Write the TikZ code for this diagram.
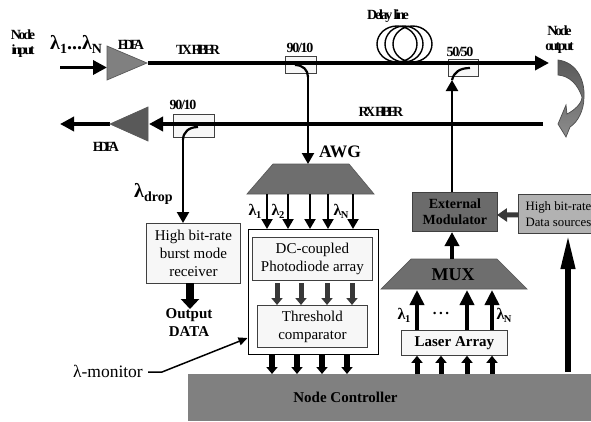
\documentclass[tikz,border=0pt]{standalone}
\usepackage{fontspec}
\setmainfont{Liberation Serif}
\newfontfamily\tightf[LetterSpace=-16]{Liberation Serif}
\newfontfamily\tighterf[LetterSpace=-26]{Liberation Serif}
\newfontfamily\tightnf[LetterSpace=-9]{Liberation Serif}
\usetikzlibrary{arrows.meta,calc}
\tikzset{
  fiberarr/.style={line width=3.4pt,-{Triangle[length=14pt,width=14pt]}},
  thinarr/.style={line width=2pt,-{Triangle[length=10pt,width=11pt]}},
  medarr/.style={line width=2.2pt,-{Triangle[length=11pt,width=12pt]}},
  fatarr/.style={line width=5pt,-{Triangle[length=7pt,width=11pt]}},
  hugearr/.style={line width=8pt,-{Triangle[length=10pt,width=18pt]}},
  longarr/.style={line width=6.5pt,-{Triangle[length=36pt,width=13pt]}},
  midarr/.style={draw=black!78,line width=5pt,-{Triangle[length=7pt,width=11pt]}},
  gbox/.style={draw=black!75,line width=0.8pt,inner sep=0pt,align=center,anchor=north west},
  tight/.style={font=\tightf\bfseries\fontsize{14}{15}\selectfont,inner sep=0pt,align=center},
  tighter/.style={font=\tighterf\bfseries\fontsize{14}{15}\selectfont,inner sep=0pt,align=center},
  tightn/.style={font=\tightnf\bfseries\fontsize{14}{15}\selectfont,inner sep=0pt,align=center},
  body/.style={font=\fontsize{15}{18}\selectfont},
  bbody/.style={font=\bfseries\fontsize{15}{18}\selectfont},
  lamlab/.style={font=\bfseries\fontsize{16}{16}\selectfont,inner sep=0pt},
  biglam/.style={font=\bfseries\fontsize{20}{20}\selectfont,inner sep=0pt,anchor=west},
  poly/.style={draw=black!65,line width=0.7pt},
}
\newcommand{\lsub}[1]{λ\kern-.5pt\raisebox{-3pt}{\fontsize{10.5}{10.5}\selectfont #1}}
\newcommand{\lbig}[1]{λ\raisebox{-4pt}{\fontsize{14}{14}\selectfont #1}}
\begin{document}
\begin{tikzpicture}[x=1pt,y=-1pt]
\useasboundingbox (0,0) rectangle (591,421);
\fill[white] (0,0) rectangle (591,421);
% free ends and junctions
\coordinate (ins) at (60,67.5);
\coordinate (ine) at (107,67.5);
\coordinate (txs) at (148,63);
\coordinate (txe) at (549,63);
\coordinate (rxs) at (543,124);
\coordinate (rxe) at (149,124);
\coordinate (oute) at (60,124);
\coordinate (outs) at (110,124);
% boxes
\node[gbox,fill=black!3,minimum width=31pt,minimum height=17pt] (c1) at (285,56) {};
\node[gbox,fill=black!3,minimum width=30pt,minimum height=17pt] (c2) at (448,59) {};
\node[gbox,fill=black!3,minimum width=41pt,minimum height=23pt] (c3) at (173,114) {};
\node[gbox,fill=black!3,body,minimum width=94pt,minimum height=60pt] (rcv) at (146,223) {High bit-rate\\burst mode\\receiver};
\node[gbox,draw=black,line width=1pt,fill=white,minimum width=130pt,minimum height=125pt] (mon) at (248,229) {};
\node[gbox,fill=black!3,body,minimum width=120pt,minimum height=43pt] (dc) at (252,237) {DC-coupled\\Photodiode array};
\node[gbox,fill=black!3,body,minimum width=110pt,minimum height=42pt] (thr) at (257,305) {Threshold\\comparator};
\node[gbox,fill=black!3,bbody,minimum width=106pt,minimum height=25pt] (las) at (401,330) {Laser Array};
\node[gbox,fill=black!58,font=\bfseries\fontsize{14}{16}\selectfont,minimum width=85pt,minimum height=39pt] (mod) at (412,192) {External\\Modulator};
\node[gbox,fill=black!30,font=\fontsize{12.8}{16.5}\selectfont,minimum width=80pt,minimum height=39pt] (src) at (518,194) {High bit-rate\\Data sources};
\fill[black!50] (188,374) rectangle (591,421);
\node[bbody,inner sep=0pt] (nc) at (345.5,397) {Node Controller};
\coordinate (nct) at (345,374);
% delay coil
\coordinate (coil) at (405,44);
\foreach \a/\b in {377/417,385/423,393/432}{
  \draw[line width=1.4pt] ({(\a+\b)/2},44) ellipse [x radius={(\b-\a)/2},y radius=18];}
% fibres
\draw[fiberarr] (ins) -- (ine);
\draw[fiberarr] (txs) -- (txe);
\draw[fiberarr] (rxs) -- (rxe);
\draw[fiberarr] (outs) -- (oute);
% EDFAs
\path[poly,fill=black!50] (107,46) -- (147,63) -- (107,80) -- cycle;
\path[poly,fill=black!65] (148,107) -- (110,124) -- (148,141) -- cycle;
% AWG, MUX
\path[poly,fill=black!57] (273,164) -- (349,164) -- (374,194) -- (247,194) -- cycle;
\path[poly,fill=black!57] (411,259) -- (497,259) -- (527,289) -- (381,289) -- cycle;
\node[font=\bfseries\fontsize{18}{18}\selectfont,inner sep=0pt] (muxl) at (453,275) {MUX};
% coupler tails
\draw[line width=2.2pt] (295,65) .. controls (303,65) and (308,70) .. (308,77) coordinate (c1t);
\coordinate (awgt) at (308,164);
\draw[medarr] (c1t) -- (awgt);
\draw[line width=2.2pt] (470,68) .. controls (460,68) and (454,72) .. (452,80) coordinate (c2t);
\coordinate (modt) at (452,192);
\draw[medarr] (modt) -- (c2t);
\draw[line width=2.2pt] (198,127) .. controls (189,127) and (183,132) .. (183,140) coordinate (c3t);
\draw[medarr] (c3t) -- (c3t |- rcv.north);
% AWG outputs
\foreach \x in {267,288,310,328,353}{
  \coordinate (a\x) at (\x,194);
  \draw[thinarr] (a\x) -- (a\x |- mon.north);}
% between boxes
\foreach \x in {277,301,327,352}{
  \coordinate (m\x) at (\x,283);
  \draw[midarr] (m\x) -- (m\x |- thr.north);}
\foreach \x in {272,297,322,347}{
  \coordinate (b\x) at (\x,354);
  \draw[fatarr,line width=5.5pt] (b\x |- mon.south) -- (b\x |- nct);}
\draw[hugearr] (190,283) -- (190,309);
% laser and MUX arrows
\foreach \x in {417,441,467,492}{
  \coordinate (l\x) at (\x,374);
  \draw[fatarr] (l\x) -- (l\x |- las.south);}
\foreach \x in {417,467,492}{
  \coordinate (u\x) at (\x,330);
  \draw[line width=3.6pt,-{Triangle[length=15pt,width=14pt]}] (u\x) -- (\x,290);}
\coordinate (muxt) at (452,259);
\draw[line width=3.6pt,-{Triangle[length=14pt,width=14pt]}] (muxt) -- (452,232);
\draw[draw=black!78,line width=5pt,-{Triangle[length=10pt,width=13pt]}] (src.west) ++(0,1) -- (497,215);
\coordinate (srcs) at (568,372);
\draw[longarr] (srcs) -- (568,233);
% monitor pointer
\coordinate (monl) at (148,372);
\draw[line width=1.5pt,-{Triangle[length=9pt,width=8pt]}] (monl) -- (162,372) -- (247.5,338);
\node[anchor=east,inner sep=0pt,font=\fontsize{17.5}{17.5}\selectfont] (monlab) at (143,371) {λ-monitor};
% curved arrow
\path[draw=black!70,line width=.7pt,left color=black!65,right color=black!45,shading angle=0]
  (558,60) .. controls (575,62) and (585,78) .. (584,97)
  .. controls (584,110) and (578,122) .. (570,127) -- (566,137) -- (558,124) -- (566,105) -- (567,114)
  .. controls (575,110) and (582,103) .. (582,97)
  .. controls (578,85) and (570,76) .. (558,75) -- cycle;
% tight labels
\node[tight] (l1) at (23,44) {Node\\input};
\node[tighter] (l2) at (131,45) {EDFA};
\node[tighter] (l3) at (198,50) {TX FIBER};
\node[tightn] (l4) at (300,48) {90/10};
\node[tightn] (l5) at (183,105) {90/10};
\node[tighter] (l6) at (106,147) {EDFA};
\node[tight] (l7) at (388,16) {Delay line};
\node[tight] (l8) at (559.5,40) {Node\\output};
\node[tightn] (l9) at (460,52) {50/50};
\node[tighter] (l10) at (381,112) {RX FIBER};
% lambda labels
\node[biglam] (li) at (50,44) {\lbig{1}...\lbig{N}};
\node[biglam] (ld) at (134,194) {\lbig{drop}};
\node[lamlab] (w1) at (255,211) {\lsub{1}};
\node[lamlab] (w2) at (278,211) {\lsub{2}};
\node[lamlab] (wn) at (341,211) {\lsub{N}};
\node[lamlab] (v1) at (404,315) {\lsub{1}};
\node[lamlab] (vn) at (504,315) {\lsub{N}};
\node[font=\bfseries\fontsize{15}{15}\selectfont,inner sep=0pt] (dots) at (441,313) {.\,.\,.};
\node[font=\bfseries\fontsize{17.5}{17.5}\selectfont,inner sep=0pt] (awg) at (340,152) {AWG};
\node[bbody,inner sep=0pt,align=center] (od) at (189,323) {Output\\DATA};
\end{tikzpicture}
\end{document}
